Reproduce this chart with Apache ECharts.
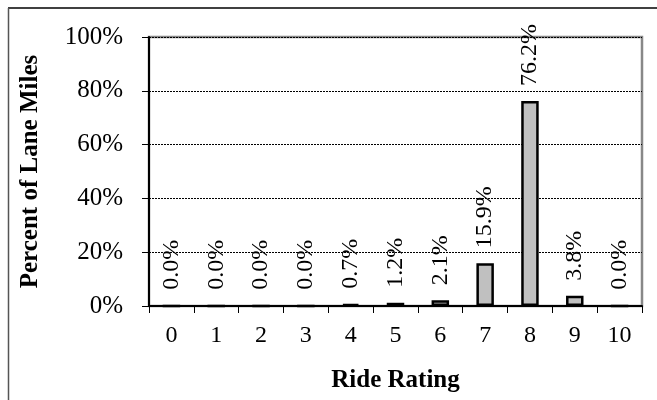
<!DOCTYPE html>
<html>
<head>
<meta charset="utf-8">
<script src="https://cdn.jsdelivr.net/npm/echarts@6/dist/echarts.min.js"></script>
<style>html,body{margin:0;padding:0;background:#fff}#c{width:657px;height:400px}</style>
</head>
<body>
<div id="c"></div>
<script>
var categories = ['0','1','2','3','4','5','6','7','8','9','10'];
var percentValues = [0.0, 0.0, 0.0, 0.0, 0.7, 1.2, 2.1, 15.9, 76.2, 3.8, 0.0];
var yTicks = [0, 20, 40, 60, 80, 100];

var FONT = '"Liberation Serif", "Times New Roman", serif';
var chart = echarts.init(document.getElementById('c'), null, {renderer: 'canvas'});
chart.setOption({
  animation: false,
  backgroundColor: '#fff',
  textStyle: {fontFamily: FONT, color: '#000'},
  graphic: [
    {type: 'line', shape: {x1: 8, y1: 8, x2: 657, y2: 8}, style: {stroke: '#000', lineWidth: 1.5}, z: 0},
    {type: 'line', shape: {x1: 8.5, y1: 8, x2: 8.5, y2: 400}, style: {stroke: '#555', lineWidth: 1.5}, z: 0}
  ],
  grid: {left: 149, top: 37, right: 15, bottom: 94, show: true, borderColor: '#888', borderWidth: 2.5, backgroundColor: 'transparent'},
  xAxis: {
    type: 'category',
    data: categories,
    boundaryGap: true,
    name: 'Ride Rating',
    nameLocation: 'middle',
    nameGap: 62,
    nameTextStyle: {fontFamily: FONT, fontWeight: 'bold', fontSize: 25, color: '#000'},
    axisLine: {lineStyle: {color: '#000', width: 2}},
    axisTick: {show: true, length: 7, lineStyle: {color: '#000', width: 1}},
    axisLabel: {fontFamily: FONT, fontSize: 24, color: '#000', margin: 18}
  },
  yAxis: {
    type: 'value',
    min: yTicks[0],
    max: yTicks[yTicks.length - 1],
    interval: 20,
    name: 'Percent of Lane Miles',
    nameLocation: 'middle',
    nameGap: 106,
    nameRotate: 90,
    nameTextStyle: {fontFamily: FONT, fontWeight: 'bold', fontSize: 25, color: '#000'},
    axisLine: {show: true, lineStyle: {color: '#000', width: 2}},
    axisTick: {show: true, length: 7, lineStyle: {color: '#000', width: 1}},
    axisLabel: {fontFamily: FONT, fontSize: 25, color: '#000', margin: 26, formatter: '{value}%'},
    splitLine: {show: true, lineStyle: {color: '#000', width: 1, type: [2, 1]}}
  },
  series: [{
    type: 'bar',
    data: percentValues,
    barWidth: '39%',
    itemStyle: {color: '#c0c0c0', borderColor: '#000', borderWidth: 2.5},
    label: {
      show: true,
      position: 'top',
      rotate: 90,
      align: 'left',
      verticalAlign: 'middle',
      distance: 15,
      fontFamily: FONT,
      fontSize: 24,
      color: '#000',
      formatter: function (p) { return p.value.toFixed(1) + '%'; }
    }
  }]
});
</script>
</body>
</html>
